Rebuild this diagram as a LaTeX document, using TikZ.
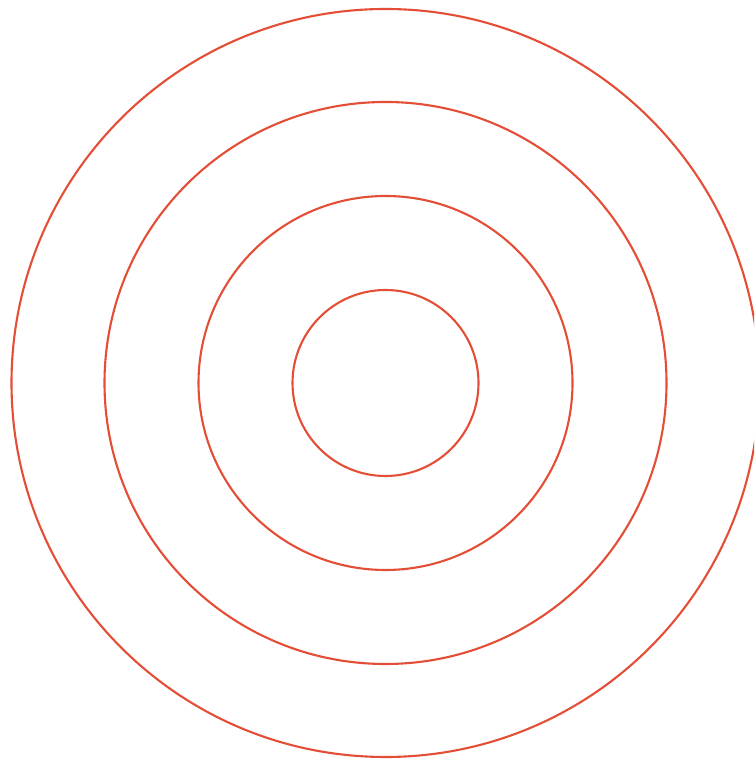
\documentclass[tikz,border=0pt]{standalone}
\definecolor{ringred}{HTML}{E44E36}
\begin{document}
\begin{tikzpicture}[x=1pt,y=1pt,ring/.style={draw=ringred,line width=2.1pt}]
\useasboundingbox (0,0) rectangle (754,762);
\clip (0,0) rectangle (754,762);
\fill[white] (0,0) rectangle (754,762);
\coordinate (c) at (385.5,379);
\draw[ring] (c) circle[radius=93];
\draw[ring] (c) circle[radius=187];
\draw[ring] (c) circle[radius=281];
\draw[ring] (c) circle[radius=374];
\end{tikzpicture}
\end{document}
